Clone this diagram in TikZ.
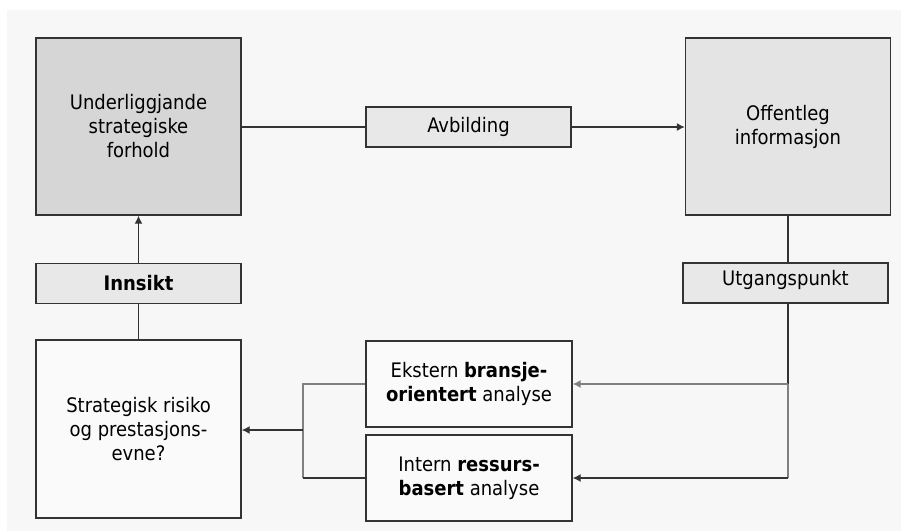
\documentclass[tikz,border=0pt]{standalone}
\usepackage{fontspec}
\setmainfont{DejaVu Sans Condensed}[BoldFont={DejaVu Sans Condensed Bold}]
\usetikzlibrary{arrows.meta}
\definecolor{pagegray}{RGB}{247,247,247}
\definecolor{darkfill}{RGB}{214,214,214}
\definecolor{midfill}{RGB}{228,228,228}
\definecolor{lightfill}{RGB}{232,232,232}
\definecolor{palefill}{RGB}{250,250,250}

\begin{document}
\begin{tikzpicture}[x=1pt, y=-1pt,
    font=\fontsize{20}{24}\selectfont,
    box/.style={draw=black!80, line width=1.4pt, align=center, inner sep=2pt},
    bigbox/.style={box, minimum width=205pt, minimum height=177pt},
    tagbox/.style={box, fill=lightfill, minimum width=205pt, minimum height=40pt},
    conn/.style={draw=black!80, line width=1.3pt},
    faint/.style={draw=black!50, line width=1.3pt},
    tip/.style={-{Latex[length=8pt,width=8pt]}}]
    \useasboundingbox (0,0) rectangle (901,531);
    \fill[pagegray] (7,10) rectangle (901,531);

    % Top row
    \node[bigbox, fill=darkfill] (forhold) at (138.5,126.5) {Underliggjande\\strategiske\\forhold};
    \node[tagbox, minimum height=40pt] (avbild) at (468.5,127) {Avbilding};
    \node[bigbox, fill=midfill] (offentleg) at (788,126.5)
        {\raisebox{-5pt}{Offentleg}\\\raisebox{-5pt}{informasjon}};

    % Side labels
    \node[tagbox] (innsikt) at (138.5,283.5) {\textbf{Innsikt}};
    \node[tagbox, text depth=10pt] (utgang) at (785.5,283) {Utgangspunkt};

    % Bottom row
    \node[bigbox, fill=palefill, minimum height=178pt] (risiko) at (138.5,429) {Strategisk risiko\\og prestasjons-\\evne?};
    \node[box, fill=palefill, minimum width=206pt, minimum height=86pt] (ekstern) at (469,384)
        {Ekstern \textbf{bransje-}\\\textbf{orientert} analyse};
    \node[box, fill=palefill, minimum width=206pt, minimum height=86pt] (intern) at (469,478)
        {Intern \textbf{ressurs-}\\\textbf{basert} analyse};

    % Junction points
    \coordinate (rtop) at (788,384);
    \coordinate (rbot) at (788,478);
    \coordinate (ltop) at (303,384);
    \coordinate (lmid) at (303,430);
    \coordinate (lbot) at (303,478);

    % Top connectors
    \draw[conn] (forhold.east |- avbild.west) -- (avbild.west);
    \draw[conn, tip] (avbild.east) -- (offentleg.west |- avbild.east);
    \draw[conn] (offentleg.south) -- (offentleg.south |- utgang.north);

    % Right branch
    \draw[conn] (offentleg.south |- utgang.south) -- (rtop);
    \draw[faint, tip] (rtop) -- (ekstern.east);
    \draw[faint] (rtop) -- (rbot);
    \draw[conn, tip] (rbot) -- (intern.east);

    % Left branch
    \draw[faint] (ekstern.west) -- (ltop) -- (lbot);
    \draw[conn] (intern.west) -- (lbot);
    \draw[conn, tip] (lmid) -- (risiko.east |- lmid);

    % Left column
    \draw[conn] (risiko.north) -- (innsikt.south);
    \draw[conn, tip] (innsikt.north) -- (forhold.south);
\end{tikzpicture}
\end{document}
